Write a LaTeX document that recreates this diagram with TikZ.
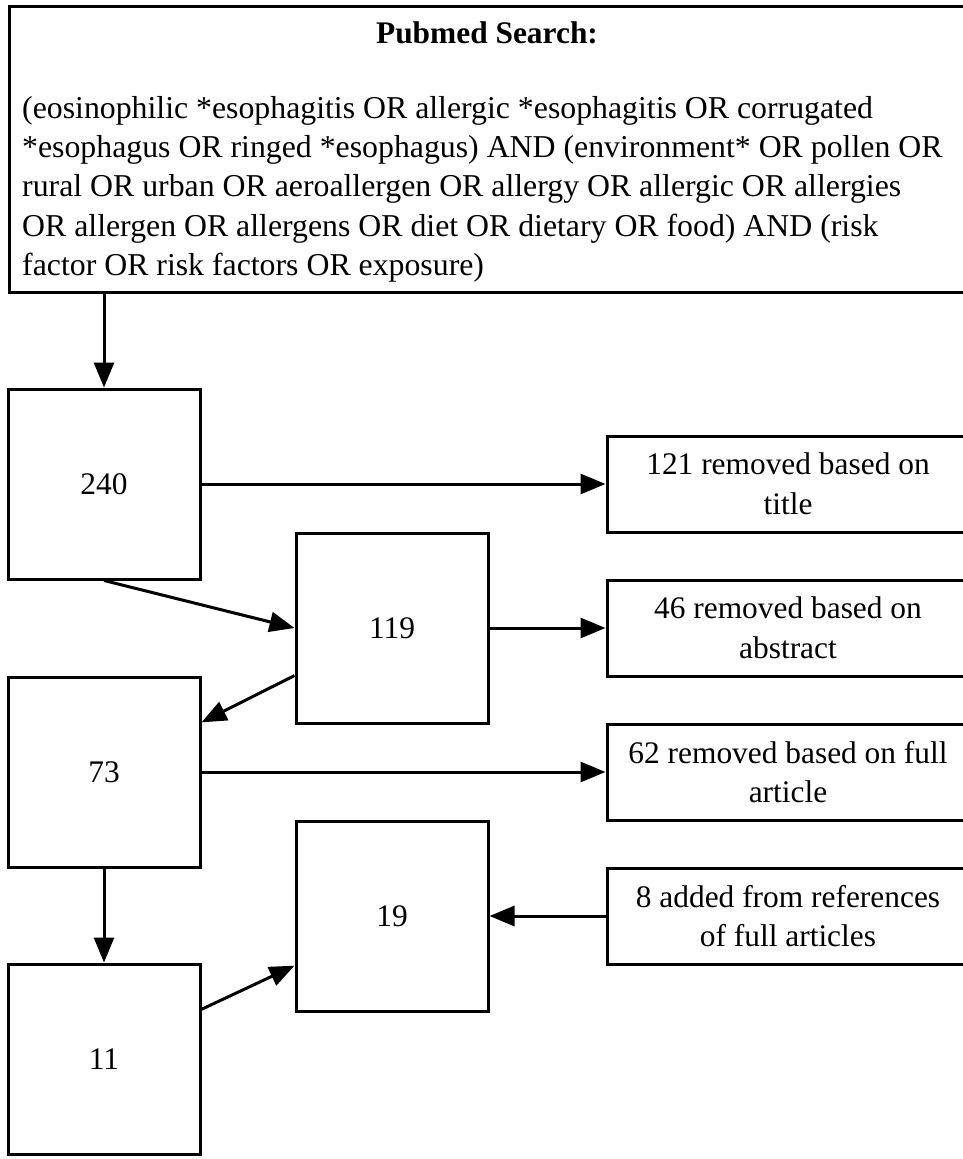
\documentclass[tikz,border=0pt]{standalone}
\usepackage{fontspec}
\setmainfont{Liberation Serif}
\usetikzlibrary{arrows.meta}

\tikzset{
  stage/.style={draw, line width=3pt, minimum width=192pt, minimum height=190pt, inner sep=0pt},
  removal/.style={draw, line width=3pt, minimum width=362pt, minimum height=96pt, align=center, inner sep=0pt},
  flow/.style={line width=3pt, -{Triangle[length=25pt,width=20pt]}}
}

\begin{document}
\begin{tikzpicture}[x=1pt, y=-1pt]
    \useasboundingbox (0,0) rectangle (963,1159);
    \fontsize{31.4}{39.5}\selectfont
    % search query
    \node[draw, line width=3pt, minimum width=958pt, minimum height=286pt, anchor=north west] (search) at (8,5) {};
    \node[anchor=base] (title) at (487,43) {\textbf{Pubmed Search:}};
    \node[anchor=north west, align=left, inner sep=0pt, font=\fontsize{31.8}{39.3}\selectfont] (query) at (22,96) {(eosinophilic *esophagitis OR allergic *esophagitis OR corrugated\\
      *esophagus OR ringed *esophagus) AND (environment* OR pollen OR\\
      rural OR urban OR aeroallergen OR allergy OR allergic OR allergies\\
      OR allergen OR allergens OR diet OR dietary OR food) AND (risk\\
      factor OR risk factors OR exposure)};
    % counts
    \node[stage] (n240) at (104,484) {240};
    \node[stage] (n119) at (392,628) {119};
    \node[stage] (n73) at (104,772) {73};
    \node[stage] (n19) at (392,916) {19};
    \node[stage] (n11) at (104,1059) {11};
    % removed / added
    \node[removal] (r121) at (788,484) {121 removed based on\\ title};
    \node[removal] (r46) at (788,628) {46 removed based on\\ abstract};
    \node[removal] (r62) at (788,772) {62 removed based on full\\ article};
    \node[removal] (a8) at (788,916) {8 added from references\\ of full articles};
    % arrows
    \draw[flow] (search.south -| n240.north) -- (n240.north);
    \draw[flow] (n240.east) -- (r121.west);
    \draw[flow] (n240.south) -- (n119.west);
    \draw[flow] (n119.east) -- (r46.west);
    \draw[flow] (n119.206) -- (n73.27);
    \draw[flow] (n73.east) -- (r62.west);
    \draw[flow] (n73.south) -- (n11.north);
    \draw[flow] (n11.27) -- (n19.207);
    \draw[flow] (a8.west) -- (n19.east);
\end{tikzpicture}
\end{document}
